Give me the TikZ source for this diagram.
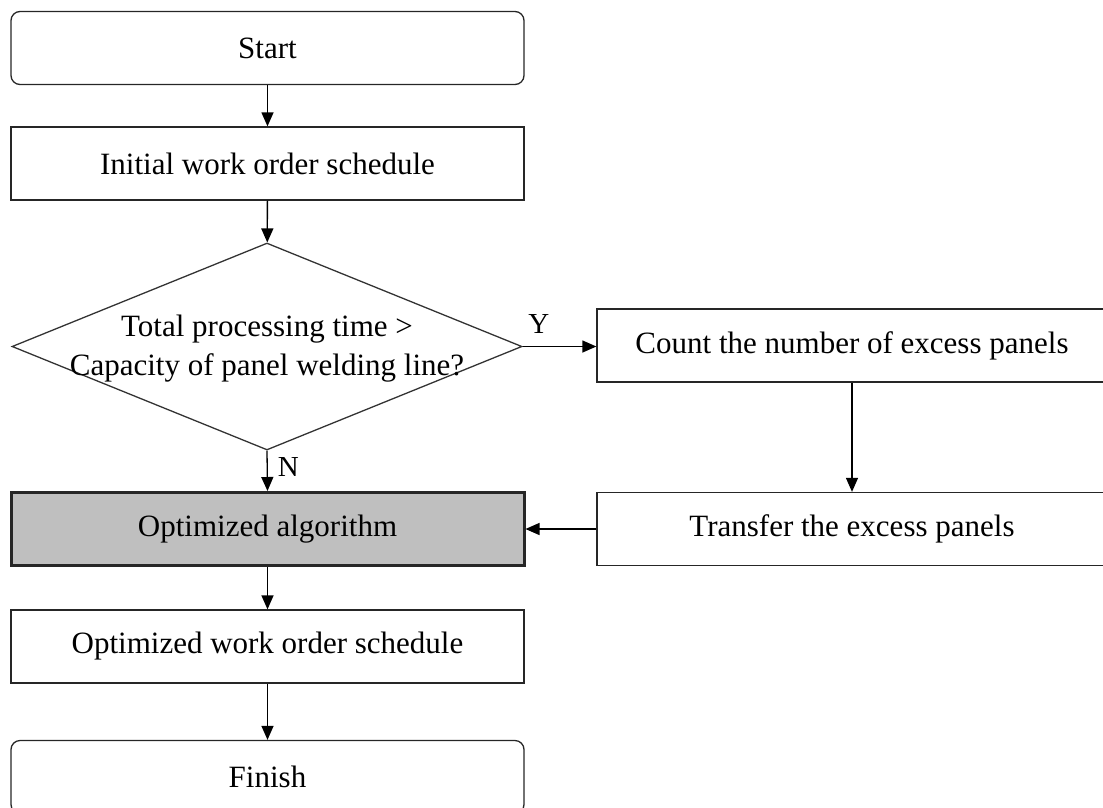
\documentclass[tikz,border=0pt]{standalone}
\usepackage{fontspec}
\setmainfont{Liberation Serif}
\usetikzlibrary{arrows.meta,shapes.geometric}
\begin{document}
\begin{tikzpicture}[x=1pt,y=-1pt,
  font=\fontsize{31}{39}\selectfont,
  every node/.style={inner sep=0pt},
  box/.style={draw=black!85, line width=1.3pt, minimum width=513pt, minimum height=73pt},
  endbox/.style={box, rounded corners=9pt},
  sidebox/.style={box, minimum width=510pt},
  keybox/.style={box, line width=3pt, fill=black!25},
  decision/.style={draw=black!80, line width=1.3pt, diamond, minimum width=510pt, minimum height=207pt},
  flow/.style={draw=black, line width=1.3pt, -{Triangle[length=14pt,width=12pt]}},
  tag/.style={font=\fontsize{29}{34}\selectfont}]
\useasboundingbox (0,0) rectangle (1103,807);

% main column
\node[endbox] (start) at (267.5,48) {Start};
\node[box] (init) at (267.5,163.5) {Initial work order schedule};
\node[decision] (dec) at (267,346.5) {};
\node[align=center] (dectext) at (267,349) {Total processing time >\\Capacity of panel welding line?};
\node[keybox] (opt) at (267.5,529) {Optimized algorithm};
\node[box] (owos) at (267.5,646.5) {Optimized work order schedule};
\node[endbox] (finish) at (267.5,777) {Finish};

% side column
\node[sidebox] (count) at (852,345.5) {Count the number of excess panels};
\node[sidebox] (transfer) at (852,529) {Transfer the excess panels};

% connectors
\draw[flow] (start) -- (init);
\draw[flow] (init) -- (dec);
\draw[flow] (dec.south) -- (opt.north) node[tag, pos=0.4, right=10pt] (n) {N};
\draw[flow] (opt) -- (owos);
\draw[flow] (owos) -- (finish);
\draw[flow] (dec.east) -- (dec.east -| count.west) node[tag, pos=0.22, above=12pt] (y) {Y};
\draw[flow] (count) -- (transfer);
\draw[flow] (transfer) -- (opt);
\end{tikzpicture}
\end{document}
